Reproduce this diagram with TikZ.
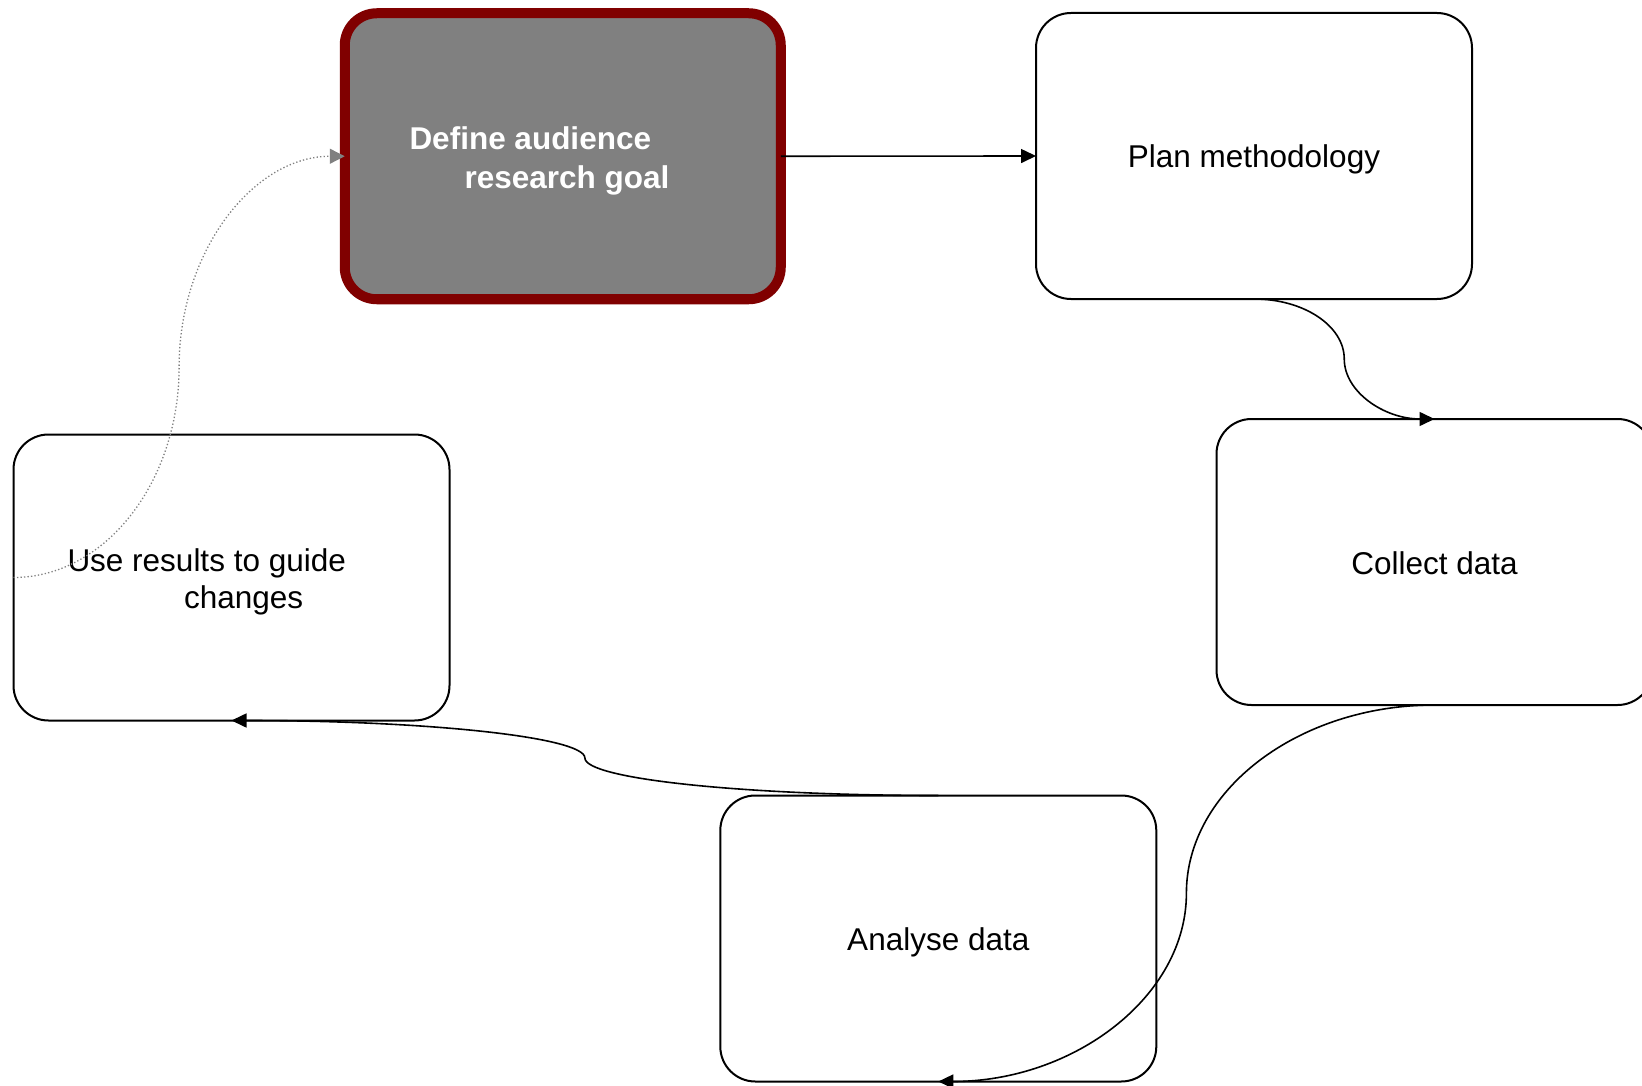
\documentclass[tikz,border=0pt]{standalone}
\usepackage{fontspec}
\setmainfont{Liberation Sans}
\usetikzlibrary{arrows.meta,calc}
\definecolor{goalfill}{RGB}{128,128,128}
\definecolor{goalrim}{RGB}{128,0,0}
\definecolor{dotgray}{RGB}{128,128,128}
\begin{document}
\begin{tikzpicture}[x=1pt,y=-1pt,
  font=\fontsize{31.5pt}{39pt}\selectfont,
  stage/.style={draw=black, line width=2pt, fill=white, rounded corners=35pt,
    minimum width=436pt, minimum height=286pt, outer sep=0pt, inner sep=0pt,
    text height=24pt, text depth=0pt},
  goal/.style={stage, draw=goalrim, fill=goalfill, line width=10pt, rounded corners=32pt},
  textline/.style={anchor=base west, inner sep=0pt, outer sep=0pt},
  flow/.style={line width=1.6pt, -{Triangle[length=15pt,width=14pt]}},
  loopback/.style={line width=1.3pt, draw=dotgray, dash pattern=on 1.3pt off 2.2pt,
    -{Triangle[length=15pt,width=15pt]}}
]
\useasboundingbox (0,0) rectangle (1642,1086);
\clip (0,0) rectangle (1642,1086);
\fill[white] (0,0) rectangle (1642,1086);

% stages of the cycle
\node[goal]  (goal)    at (562.75,156.25) {};
\node[stage] (plan)    at (1254,156)      {Plan methodology};
\node[stage] (collect) at (1434.5,562)    {Collect data};
\node[stage] (analyse) at (938.3,938.5)   {Analyse data};
\node[stage] (use)     at (231.5,577.5)   {};

% multi-line labels
\node[textline, text=white, font=\fontsize{31.5pt}{39pt}\selectfont\bfseries] (goal-a) at (409.5,150) {Define audience};
\node[textline, text=white, font=\fontsize{31.5pt}{39pt}\selectfont\bfseries] (goal-b) at (464.5,189) {research goal};
\node[textline] (use-a) at (67.5,571.2) {Use results to guide};
\node[textline] (use-b) at (184,608.8) {changes};

% midpoints of the curved connectors
\coordinate (m1) at ($(plan.south)!0.5!(collect.north)$);
\coordinate (m2) at ($(collect.south)!0.5!(analyse.south)$);
\coordinate (m3) at ($(analyse.north)!0.5!(use.south)$);
\coordinate (m4) at ($(use.west)!0.5!(goal.west)$);

% connectors
\draw[flow] (goal.east) -- (plan.west);
\draw[flow] (plan.south) .. controls ($(plan.south)+(50,0)$) and ($(m1)+(0,-33)$) .. (m1)
  .. controls ($(m1)+(0,33)$) and ($(collect.north)+(-50,0)$) .. (collect.north);
\draw[flow] (collect.south) .. controls ($(collect.south)+(-136,0)$) and ($(m2)+(0,-103)$) .. (m2)
  .. controls ($(m2)+(0,103)$) and ($(analyse.south)+(136,0)$) .. (analyse.south);
\draw[flow] (analyse.north) .. controls ($(analyse.north)+(-194,0)$) and ($(m3)+(0,21)$) .. (m3)
  .. controls ($(m3)+(0,-21)$) and ($(use.south)+(194,0)$) .. (use.south);
\draw[loopback] (use.west) .. controls ($(use.west)+(91,0)$) and ($(m4)+(0,116)$) .. (m4)
  .. controls ($(m4)+(0,-116)$) and ($(goal.west)+(-91,0)$) .. (goal.west);
\end{tikzpicture}
\end{document}
